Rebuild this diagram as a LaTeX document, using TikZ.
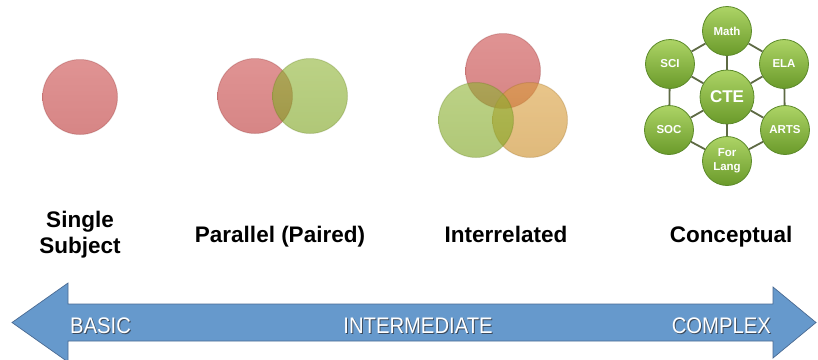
\documentclass[tikz,border=0pt]{standalone}
\usepackage{fontspec}
\setmainfont{Liberation Sans}
\newfontfamily\arrowfont[FakeStretch=0.9]{Liberation Sans}

% base tones of the see-through subject circles
\definecolor{subjred}{RGB}{197,55,55}
\definecolor{subjgreen}{RGB}{130,171,30}
\definecolor{subjorange}{RGB}{213,147,38}
\definecolor{hubtop}{HTML}{ADD466}
\definecolor{hubbot}{HTML}{6A9A2A}
\definecolor{hubedge}{HTML}{5C8A2A}
\definecolor{hubline}{HTML}{5E6A44}
\definecolor{arrowfill}{HTML}{6699CC}
\definecolor{arrowedge}{HTML}{4A6A92}
\definecolor{txtshadow}{HTML}{3C4A5C}

\tikzset{
  bub/.style={circle, inner sep=0pt, minimum size=75pt, line width=1pt, fill opacity=0.6, draw opacity=0.25},
  redbub/.style={bub, top color=subjred!90!white, bottom color=subjred!95!black, draw=subjred!70!black},
  greenbub/.style={bub, top color=subjgreen!90!white, bottom color=subjgreen!95!black, draw=subjgreen!70!black},
  orangebub/.style={bub, top color=subjorange!90!white, bottom color=subjorange!95!black, draw=subjorange!70!black},
  lbl/.style={inner sep=0pt, font=\fontsize{22.5}{26}\selectfont\bfseries, align=center},
  hub/.style={circle, inner sep=0pt, minimum size=49pt, top color=hubtop, bottom color=hubbot,
    draw=hubedge, line width=0.8pt, text=white, font=\fontsize{11.5}{13.5}\selectfont\bfseries, align=center},
  core/.style={hub, minimum size=54pt, font=\fontsize{17}{20}\selectfont\bfseries},
  link/.style={draw=hubline, line width=1.8pt},
  arrowtxt/.style={inner sep=0pt, text=white, font=\fontsize{22.5}{26}\selectfont\arrowfont}
}
\newcommand{\shadowed}[1]{\rlap{\color{txtshadow}\kern1pt\raisebox{-1pt}{#1}}#1}

\begin{document}
\begin{tikzpicture}[x=1pt,y=-1pt]
\useasboundingbox (0,0) rectangle (818,359);

% single subject
\node[redbub] (single) at (80,97) {};

% parallel (paired)
\node[redbub] (parA) at (255,96) {};
\node[greenbub] (parB) at (310,96) {};

% interrelated
\node[redbub] (intA) at (503,71) {};
\node[orangebub] (intC) at (530,120) {};
\node[greenbub] (intB) at (476,120) {};

% conceptual: hub and ring
\node[hub] (math) at (727,31) {Math};
\node[hub] (ela)  at (784,64) {ELA};
\node[hub] (arts) at (785,130) {ARTS};
\node[hub] (lang) at (727,161) {For\\Lang};
\node[hub] (soc)  at (669,130) {SOC};
\node[hub] (sci)  at (670,64) {SCI};
\node[core] (cte) at (727,97) {CTE};
\draw[link] (math) -- (ela);
\draw[link] (ela) -- (arts);
\draw[link] (arts) -- (lang);
\draw[link] (lang) -- (soc);
\draw[link] (soc) -- (sci);
\draw[link] (sci) -- (math);
\foreach \n in {math,ela,arts,lang,soc,sci} \draw[link] (cte) -- (\n);

% captions
\node[lbl] (capSingle) at (80,235) {Single\\Subject};
\node[lbl, anchor=base] (capParallel) at (280,242) {Parallel (Paired)};
\node[lbl, anchor=base] (capInter) at (506,242) {Interrelated};
\node[lbl, anchor=base] (capConcept) at (731,242) {Conceptual};

% double arrow of complexity
\draw[fill=arrowfill, draw=arrowedge, line width=0.7pt, line join=miter]
  (12,322.5) -- (68,283) -- (68,304) -- (773,304) -- (773,287) -- (816,322.5)
  -- (773,358) -- (773,341) -- (68,341) -- (68,362) -- cycle;
\node[arrowtxt, anchor=base west] (basic) at (70,333) {\shadowed{BASIC}};
\node[arrowtxt, anchor=base] (inter) at (418,333) {\shadowed{INTERMEDIATE}};
\node[arrowtxt, anchor=base east] (complex) at (771,333) {\shadowed{COMPLEX}};
\end{tikzpicture}
\end{document}
